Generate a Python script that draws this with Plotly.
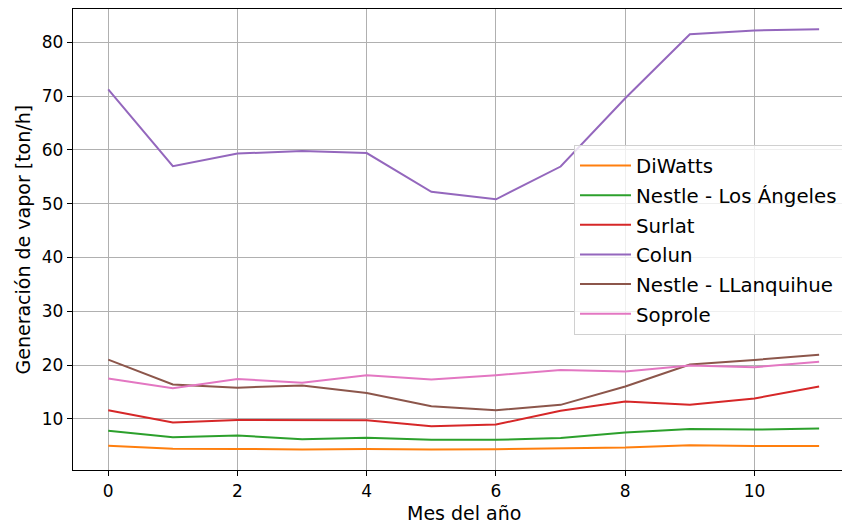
import plotly.graph_objects as go

meses = list(range(12))
diwatts = [5.0, 4.45, 4.4, 4.3, 4.4, 4.3, 4.35, 4.5, 4.65, 5.1, 4.95, 4.95]
nestle_la = [7.8, 6.6, 6.9, 6.2, 6.5, 6.1, 6.1, 6.45, 7.45, 8.1, 8.0, 8.2]
surlat = [11.6, 9.3, 9.8, 9.8, 9.75, 8.6, 8.95, 11.5, 13.2, 12.6, 13.8, 16.0]
colun = [71.25, 56.95, 59.3, 59.8, 59.4, 52.2, 50.8, 56.9, 69.6, 81.5, 82.2, 82.4]
nestle_ll = [21.0, 16.4, 15.8, 16.2, 14.8, 12.35, 11.6, 12.6, 16.0, 20.1, 20.95, 21.9]
soprole = [17.5, 15.7, 17.4, 16.7, 18.1, 17.3, 18.1, 19.1, 18.8, 19.9, 19.6, 20.6]

series_names = ["DiWatts", "Nestle - Los Ángeles", "Surlat", "Colun", "Nestle - LLanquihue", "Soprole"]
series_values = [diwatts, nestle_la, surlat, colun, nestle_ll, soprole]
colors = ["#ff7f0e", "#2ca02c", "#d62728", "#9467bd", "#8c564b", "#e377c2"]

FONT = "DejaVu Sans"

fig = go.Figure()
for name, vals, col in zip(series_names, series_values, colors):
    fig.add_trace(go.Scatter(
        x=meses, y=vals, mode="lines", name="<span style='font-size:19.8px'>" + name + "</span>",
        line=dict(color=col, width=2),
    ))

fig.update_layout(
    width=842, height=525,
    margin=dict(l=73, r=0, t=9, b=55, autoexpand=False),
    paper_bgcolor="white", plot_bgcolor="white",
    font=dict(family=FONT, color="black", size=17),
    showlegend=True,
    legend=dict(
        x=0.6515, y=0.7057, xanchor="left", yanchor="top",
        bgcolor="rgba(255,255,255,0.8)", bordercolor="#d0d0d0", borderwidth=1,
        font=dict(family=FONT, size=20.5, color="black"),
        itemwidth=51,
    ),
    xaxis=dict(
        range=[-0.545, 11.354], tickmode="array", tickvals=[0, 2, 4, 6, 8, 10],
        showgrid=True, gridcolor="#b0b0b0", gridwidth=1,
        showline=True, linecolor="black", linewidth=1.3, mirror=True,
        ticks="outside", ticklen=5, tickwidth=1.2, tickcolor="black",
        zeroline=False, tickfont=dict(size=17),
    ),
    yaxis=dict(
        range=[0.49, 86.18], tickmode="array", tickvals=[10, 20, 30, 40, 50, 60, 70, 80],
        showgrid=True, gridcolor="#b0b0b0", gridwidth=1,
        showline=True, linecolor="black", linewidth=1.3, mirror=False,
        ticks="outside", ticklen=5, tickwidth=1.2, tickcolor="black",
        zeroline=False, tickfont=dict(size=17),
    ),
    annotations=[
        dict(text="Mes del año", xref="paper", yref="paper", x=0.5085, y=-0.094,
             xanchor="center", yanchor="middle", showarrow=False,
             font=dict(size=19, family=FONT)),
        dict(text="Generación de vapor [ton/h]", xref="paper", yref="paper", x=-0.0663, y=0.5,
             xanchor="center", yanchor="middle", textangle=-90, showarrow=False,
             font=dict(size=19, family=FONT)),
    ],
)

fig.write_html("out.html")
